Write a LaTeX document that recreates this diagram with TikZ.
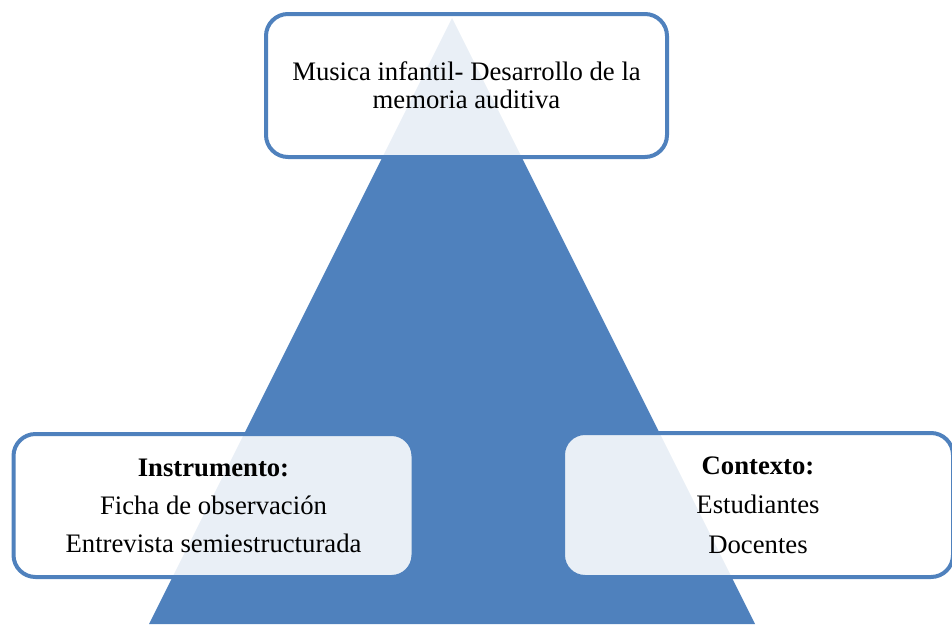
\documentclass[tikz,border=0pt]{standalone}
\usepackage{fontspec}
\setmainfont{Liberation Serif}
\definecolor{accent}{HTML}{4F81BD}
\tikzset{
  tri/.style={fill=accent},
  infobox/.style={draw=accent, line width=4pt, fill=white, fill opacity=0.88, text opacity=1,
    rounded corners=22pt, align=center, inner sep=0pt},
}
\begin{document}
\begin{tikzpicture}[x=1pt,y=-1pt]
\useasboundingbox (0,0) rectangle (952,624);
\clip (0,0) rectangle (952,624);
\coordinate (apex) at (452,18);
\coordinate (bl) at (149,624);
\coordinate (br) at (755,624);
\fill[tri] (apex) -- (bl) -- (br) -- cycle;
\node[infobox, minimum width=401pt, minimum height=143pt,
  font=\fontsize{26.7}{28}\selectfont] (top) at (466.5,85.5)
  {Musica infantil- Desarrollo de la\\memoria auditiva};
\node[infobox, minimum width=400pt, minimum height=143pt,
  font=\fontsize{26.7}{38}\selectfont] (instr) at (213.5,505.5)
  {\textbf{Instrumento:}\\Ficha de observación\\Entrevista semiestructurada};
\node[infobox, minimum width=390pt, minimum height=144pt,
  font=\fontsize{26.7}{39.5}\selectfont] (ctx) at (758,505)
  {\textbf{Contexto:}\\Estudiantes\\Docentes};
\end{tikzpicture}
\end{document}
